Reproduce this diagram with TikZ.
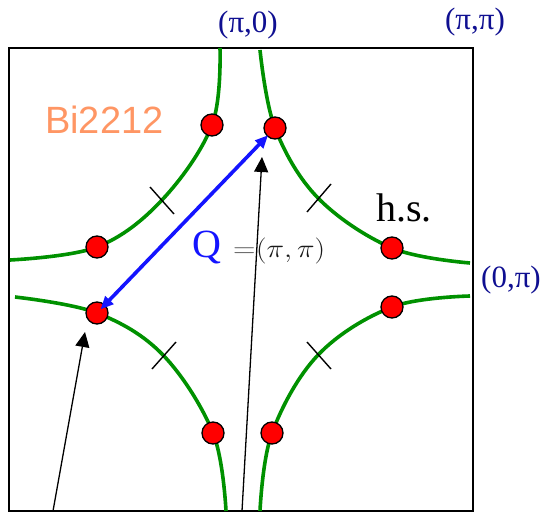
\documentclass[tikz,border=0pt]{standalone}
\usepackage{graphicx}
\usepackage{fontspec}
\setmainfont{Liberation Serif}
\newfontfamily\arialf{Liberation Sans}
\usetikzlibrary{arrows.meta}
\definecolor{fsgreen}{RGB}{0,145,0}
\definecolor{navyc}{RGB}{15,15,145}
\definecolor{salmonc}{RGB}{255,150,100}
\definecolor{qblue}{RGB}{20,20,255}
\tikzset{
  fsline/.style={draw=fsgreen, line width=3.6pt},
  tickln/.style={draw=black, line width=1.4pt},
  hotspot/.style={circle, fill=red, draw=black, line width=1.3pt, minimum size=22pt, inner sep=0pt},
  klabel/.style={text=navyc, font=\fontsize{31}{34}\selectfont, inner sep=0pt},
  pointer/.style={draw=black, line width=1.3pt, -{Triangle[length=15pt,width=14pt]}},
  qarrow/.style={draw=qblue, line width=3.6pt, {Triangle[length=13pt,width=11pt]}-{Triangle[length=13pt,width=11pt]}}
}
\begin{document}
\begin{tikzpicture}[x=1pt,y=-1pt]
\useasboundingbox (0,0) rectangle (551,513);
\draw[line width=2.5pt] (9,48) rectangle (473,511);
% Fermi surface arcs
\draw[fsline] plot[smooth, tension=0.6] coordinates {(220,48) (212,125) (162,200) (97,247) (10,260)};
\draw[fsline] plot[smooth, tension=0.6] coordinates {(260,50) (275,128) (318,198) (392,248) (470,263)};
\draw[fsline] plot[smooth, tension=0.6] coordinates {(15,297) (97,313) (163,355) (213,433) (226,511)};
\draw[fsline] plot[smooth, tension=0.6] coordinates {(470,296) (392,307) (318,355) (272,433) (260,511)};
% nodal ticks
\draw[tickln] (150,187) -- (174,214);
\draw[tickln] (307,212) -- (331,184);
\draw[tickln] (152,369) -- (176,342);
\draw[tickln] (307,342) -- (331,369);
% hot spots
\node[hotspot] (d1) at (212,125) {};
\node[hotspot] (d2) at (275,128) {};
\node[hotspot] (d3) at (97,247) {};
\node[hotspot] (d4) at (392,248) {};
\node[hotspot] (d5) at (97,313) {};
\node[hotspot] (d6) at (392,307) {};
\node[hotspot] (d7) at (213,433) {};
\node[hotspot] (d8) at (272,433) {};
% Q vector
\draw[qarrow, shorten <=5pt, shorten >=10pt] (d5.center) -- (d2.center);
% pointers
\coordinate (b1) at (53,511);
\coordinate (t1) at (85,332);
\coordinate (b2) at (242,511);
\coordinate (t2) at (262,157);
\draw[pointer] (b1) -- (t1);
\draw[pointer] (b2) -- (t2);
% labels
\node[klabel, anchor=base] (lpi0) at (248,33) {(π,0)};
\node[klabel, anchor=base] (lpipi) at (475,30) {(π,π)};
\node[klabel, anchor=base west] (l0pi) at (481,287) {(0,π)};
\node[anchor=base, inner sep=0pt, font=\fontsize{40}{44}\selectfont] (hs) at (404,222) {h.s.};
\node[anchor=base, inner sep=0pt, text=qblue, font=\fontsize{40}{44}\selectfont] (qq) at (207,257) {Q};
\node[anchor=base west, inner sep=0pt, text=black!65, font=\fontsize{24.88}{28}\selectfont] (qeq) at (233,257) {\scalebox{1.25}[1.1]{$=$}};
\node[anchor=base west, inner sep=0pt, text=black!90, font=\fontsize{24.88}{28}\selectfont] (qv) at (256,257) {\scalebox{1.19}[1.05]{$(\pi,\pi)$}};
\node[anchor=base west, inner sep=0pt, text=salmonc, font=\arialf\fontsize{38}{42}\selectfont] (bi) at (45,134) {Bi2212};
\end{tikzpicture}
\end{document}
